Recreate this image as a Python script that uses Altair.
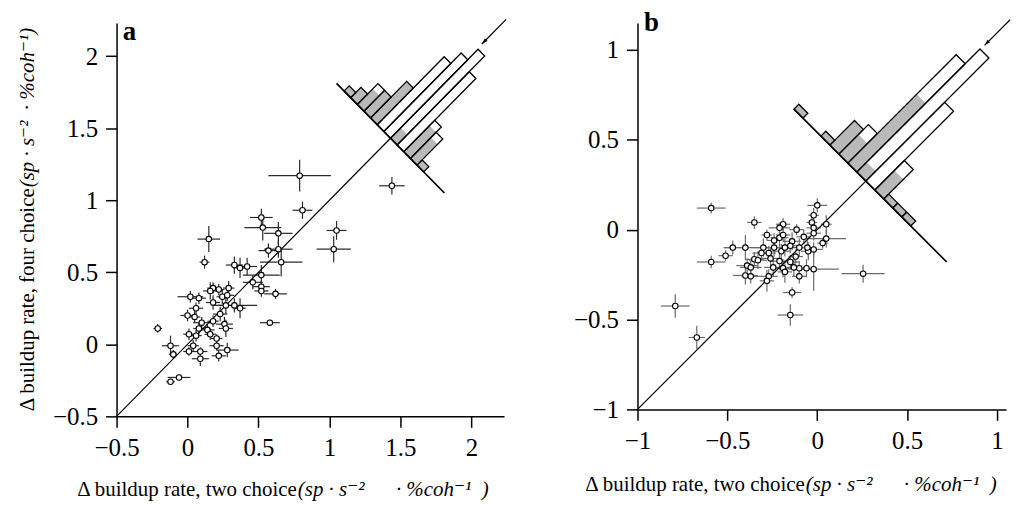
import altair as alt
import pandas as pd

# ---------------------------------------------------------------
# Panel a: two choice (x) vs four choice (y), one point per cell
# ---------------------------------------------------------------
A_X = [0.79, 1.44, 0.81, 0.52, 0.53, 1.05, 0.64, 0.15, 1.03, 0.64, 0.57, 0.12, 0.66, 0.33, 0.37,
       0.42, 0.52, 0.46, 0.52, 0.52, 0.62, 0.18, 0.22, 0.29, 0.02, 0.08, 0.16, 0.245, 0.28, 0.18,
       0.27, 0.33, 0.37, 0.06, 0.05, 0.00, 0.58, 0.23, 0.18, 0.26, 0.27, 0.10, 0.08, 0.14, -0.21,
       0.01, 0.06, 0.16, 0.205, -0.12, 0.04, 0.205, -0.10, 0.01, 0.09, 0.09, 0.22, 0.28, -0.06, -0.12]
A_Y = [1.17, 1.10, 0.93, 0.88, 0.81, 0.79, 0.77, 0.73, 0.66, 0.66, 0.65, 0.57, 0.57, 0.55, 0.53,
       0.54, 0.48, 0.43, 0.40, 0.37, 0.35, 0.39, 0.38, 0.39, 0.33, 0.32, 0.37, 0.33, 0.34, 0.29,
       0.27, 0.27, 0.25, 0.25, 0.19, 0.20, 0.15, 0.21, 0.16, 0.14, 0.11, 0.15, 0.11, 0.10, 0.11,
       0.07, 0.06, 0.07, 0.04, -0.01, -0.01, -0.01, -0.07, -0.05, -0.05, -0.10, -0.08, -0.04, -0.23, -0.26]
A_XERR = [0.22, 0.09, 0.07, 0.08, 0.13, 0.07, 0.10, 0.08, 0.12, 0.10, 0.07, 0.035, 0.15, 0.06, 0.05,
          0.07, 0.13, 0.07, 0.06, 0.05, 0.08, 0.04, 0.04, 0.04, 0.09, 0.05, 0.05, 0.04, 0.05, 0.05,
          0.06, 0.16, 0.04, 0.05, 0.04, 0.05, 0.07, 0.05, 0.04, 0.06, 0.05, 0.06, 0.04, 0.05, 0.03,
          0.04, 0.04, 0.04, 0.04, 0.06, 0.04, 0.05, 0.03, 0.04, 0.05, 0.06, 0.05, 0.08, 0.08, 0.03]
A_YERR = [0.11, 0.06, 0.06, 0.06, 0.09, 0.065, 0.08, 0.09, 0.09, 0.06, 0.05, 0.045, 0.10, 0.06, 0.07,
          0.06, 0.07, 0.05, 0.04, 0.04, 0.035, 0.04, 0.04, 0.05, 0.04, 0.04, 0.06, 0.05, 0.04, 0.05,
          0.06, 0.05, 0.07, 0.04, 0.04, 0.04, 0.02, 0.05, 0.04, 0.05, 0.06, 0.04, 0.04, 0.04, 0.03,
          0.04, 0.04, 0.04, 0.03, 0.07, 0.04, 0.03, 0.03, 0.03, 0.03, 0.05, 0.04, 0.05, 0.02, 0.02]

# histogram of (four - two) along the diagonal
A_BIN = [6, 5, 4, 3, 2, 1, 0, -1, -2, -3, -4, -5]
A_TOTAL = [1, 2, 4, 4, 7, 13, 15, 17, 14, 6, 5, 1]
A_GRAY = [1, 2, 3, 4, 7, 0, 0, 2, 0, 5, 4, 1]
A_BIN_WIDTH = 0.0935
A_MEAN = 0.01

# ---------------------------------------------------------------
# Panel b
# ---------------------------------------------------------------
B_X = [-0.59, -0.35, 0.00, -0.02, -0.03, -0.02, 0.05, -0.28, -0.19, -0.115, -0.21, 0.05, 0.03, -0.47, -0.40,
       -0.51, -0.59, -0.30, -0.24, -0.20, -0.18, -0.14, -0.21, -0.31, -0.35, -0.39, -0.33, -0.37, -0.40, -0.37,
       -0.26, -0.245, -0.21, -0.15, -0.19, -0.18, -0.27, -0.28, -0.13, -0.10, -0.06, -0.02, 0.255, -0.14, -0.15,
       -0.79, -0.67, -0.19, -0.10, -0.05, -0.02, -0.055, -0.02, -0.10, -0.15, -0.075, -0.12, -0.24, -0.27]
B_Y = [0.12, 0.04, 0.135, 0.08, 0.04, 0.01, 0.03, -0.03, 0.03, 0.00, 0.01, -0.05, -0.075, -0.10, -0.10,
       -0.145, -0.18, -0.10, -0.10, -0.12, -0.10, -0.065, -0.045, -0.13, -0.165, -0.20, -0.17, -0.21, -0.255, -0.26,
       -0.16, -0.21, -0.175, -0.18, -0.215, -0.235, -0.26, -0.285, -0.21, -0.26, -0.215, -0.22, -0.245, -0.35, -0.475,
       -0.425, -0.60, -0.03, -0.10, -0.12, -0.11, -0.10, -0.02, -0.215, -0.09, -0.04, -0.15, -0.06, -0.13]
B_XERR = [0.08, 0.04, 0.055, 0.03, 0.03, 0.04, 0.03, 0.03, 0.04, 0.04, 0.06, 0.11, 0.03, 0.05, 0.12,
          0.04, 0.08, 0.06, 0.05, 0.05, 0.05, 0.05, 0.05, 0.05, 0.05, 0.06, 0.05, 0.06, 0.07, 0.05,
          0.06, 0.05, 0.05, 0.05, 0.06, 0.04, 0.05, 0.04, 0.04, 0.04, 0.05, 0.14, 0.12, 0.05, 0.07,
          0.08, 0.045, 0.04, 0.05, 0.04, 0.05, 0.04, 0.04, 0.05, 0.04, 0.04, 0.04, 0.04, 0.04]
B_YERR = [0.03, 0.035, 0.04, 0.04, 0.03, 0.03, 0.05, 0.03, 0.035, 0.03, 0.03, 0.05, 0.03, 0.04, 0.07,
          0.03, 0.035, 0.05, 0.05, 0.04, 0.05, 0.05, 0.05, 0.04, 0.04, 0.04, 0.05, 0.04, 0.05, 0.04,
          0.06, 0.05, 0.05, 0.04, 0.05, 0.06, 0.04, 0.06, 0.05, 0.04, 0.05, 0.12, 0.05, 0.03, 0.06,
          0.065, 0.065, 0.04, 0.05, 0.05, 0.04, 0.04, 0.04, 0.04, 0.04, 0.04, 0.04, 0.04, 0.04]

B_BIN = [7, 4, 3, 2, 1, 0, -1, -2, -3, -4, -5]
B_TOTAL = [1, 1, 5, 6, 22, 25, 16, 6, 1, 1, 1]
B_GRAY = [1, 1, 5, 4, 14, 2, 0, 4, 1, 1, 1]
B_BIN_WIDTH = 0.1
B_MEAN = 0.095

SERIF = "Liberation Serif, DejaVu Serif, serif"
GRAY = "#b9b9b9"


def make_axis(values, pad):
    return alt.Axis(values=values, format="~g", title=None, grid=False,
                    domainColor="black", domainWidth=1.5, tickColor="black", tickWidth=1.5,
                    tickSize=11, labelFont=SERIF, labelFontSize=25, labelColor="black",
                    labelPadding=pad, labelFlush=False, labelOverlap=False)


def hist_polygons(c, bins, counts, bin_width, unit):
    """Corners of the rotated bars: base on the anti-diagonal through (c, c), length along y = x."""
    rows = []
    for b, n in zip(bins, counts):
        if n == 0:
            continue
        lo, hi = b * bin_width, (b + 1) * bin_width
        L = n * unit
        corners = [(c - lo / 2, c + lo / 2), (c - hi / 2, c + hi / 2),
                   (c - hi / 2 + L, c + hi / 2 + L), (c - lo / 2 + L, c + lo / 2 + L),
                   (c - lo / 2, c + lo / 2)]
        for k, (px, py) in enumerate(corners):
            rows.append({"bar": b, "k": k, "x": px, "y": py})
    return pd.DataFrame(rows)


def panel(xs, ys, xerr, yerr, dom_x, dom_y, ticks, w, h, err_color,
          c, bins, total, gray, bin_width, unit, hist_span, mean, tip, tail):
    X = lambda f: alt.X(f, scale=alt.Scale(domain=dom_x, nice=False, zero=False), axis=make_axis(ticks, 8))
    Y = lambda f: alt.Y(f, scale=alt.Scale(domain=dom_y, nice=False, zero=False), axis=make_axis(ticks, 8))

    df = pd.DataFrame({"x": xs, "y": ys, "xe": xerr, "ye": yerr})
    df["x_lo"], df["x_hi"] = df.x - df.xe, df.x + df.xe
    df["y_lo"], df["y_hi"] = df.y - df.ye, df.y + df.ye
    base = alt.Chart(df)
    herr = base.mark_rule(color=err_color, strokeWidth=1.2).encode(x=X("x_lo:Q"), x2="x_hi:Q", y=Y("y:Q"))
    verr = base.mark_rule(color=err_color, strokeWidth=1.2).encode(x=X("x:Q"), y=Y("y_lo:Q"), y2="y_hi:Q")
    pts = base.mark_point(shape="circle", filled=True, fill="white", stroke="black",
                          strokeWidth=1.1, size=30, opacity=1).encode(x=X("x:Q"), y=Y("y:Q"))

    lo = dom_x[0]
    diag = alt.Chart(pd.DataFrame({"x": [lo, c], "y": [lo, c]})).mark_line(
        color="black", strokeWidth=1.2).encode(x=X("x:Q"), y=Y("y:Q"))

    poly_total = hist_polygons(c, bins, total, bin_width, unit)
    poly_gray = hist_polygons(c, bins, gray, bin_width, unit)
    enc = dict(x=X("x:Q"), y=Y("y:Q"), detail="bar:N", order="k:Q")
    white_fill = alt.Chart(poly_total).mark_line(fill="white", strokeOpacity=0).encode(**enc)
    gray_fill = alt.Chart(poly_gray).mark_line(fill=GRAY, strokeOpacity=0).encode(**enc)
    outline = alt.Chart(poly_total).mark_line(color="black", strokeWidth=1.3,
                                              strokeJoin="miter").encode(**enc)

    e_hi, e_lo = hist_span
    hax = alt.Chart(pd.DataFrame({"x": [c - e_hi / 2, c - e_lo / 2],
                                  "y": [c + e_hi / 2, c + e_lo / 2]})).mark_line(
        color="black", strokeWidth=1.7).encode(x=X("x:Q"), y=Y("y:Q"))

    ax0, ay0 = c - mean / 2 + tip, c + mean / 2 + tip
    ax1, ay1 = c - mean / 2 + tail, c + mean / 2 + tail
    shaft = alt.Chart(pd.DataFrame({"x": [ax0, ax1], "y": [ay0, ay1]})).mark_line(
        color="black", strokeWidth=1.2).encode(x=X("x:Q"), y=Y("y:Q"))
    head = alt.Chart(pd.DataFrame({"x": [ax0], "y": [ay0]})).mark_point(
        shape="M0,0L-0.38,-1.3L0.38,-1.3Z", angle=45, size=90, filled=True,
        color="black", opacity=1).encode(x=X("x:Q"), y=Y("y:Q"))

    return alt.layer(herr, verr, diag, pts, white_fill, gray_fill, outline, hax, shaft, head).properties(
        width=w, height=h)


def label(text, x, y, size=21, style="normal", weight="normal", align="center", angle=0):
    return alt.Chart(pd.DataFrame({"t": [text]})).mark_text(
        font=SERIF, fontSize=size, fontStyle=style, fontWeight=weight, align=align,
        baseline="middle", angle=angle, color="black").encode(
        text="t:N", x=alt.value(x), y=alt.value(y))


UNITS_WIDE = "(sp · s⁻²\u2003\u2002· %coh⁻¹\u2002)"
UNITS = "(sp · s⁻²\u2002· %coh⁻¹)"

chart_a = panel(A_X, A_Y, A_XERR, A_YERR, [-0.5, 2.23], [-0.5, 2.23],
                [-0.5, 0, 0.5, 1, 1.5, 2], 389, 395, "#2a2a2a",
                1.43, A_BIN, A_TOTAL, A_GRAY, A_BIN_WIDTH, 0.0363, (0.76, -0.76),
                A_MEAN, 0.649, 0.82)
chart_a = alt.layer(
    chart_a,
    label("a", 13, 9, size=27, weight="bold"),
    label("Δ buildup rate, two choice", 181, 469, align="right"),
    label(UNITS_WIDE, 182, 469, style="italic", align="left"),
    label("Δ buildup rate, four choice", -89, 166, align="right", angle=270),
    label(UNITS, -89, 165, style="italic", align="left", angle=270),
)

chart_b = panel(B_X, B_Y, B_XERR, B_YERR, [-1, 1.05], [-1, 1.15],
                [-1, -0.5, 0, 0.5, 1], 370, 388, "#6a6a6a",
                0.27, B_BIN, B_TOTAL, B_GRAY, B_BIN_WIDTH, 0.0274, (0.8, -0.9),
                B_MEAN, 0.708, 0.85)
chart_b = alt.layer(
    chart_b,
    label("b", 14, 0, size=27, weight="bold"),
    label("Δ buildup rate, two choice", 168, 464, align="right"),
    label(UNITS_WIDE, 169, 464, style="italic", align="left"),
)

chart = alt.hconcat(chart_a, chart_b, spacing=134, bounds="flush").properties(
    padding={"left": 9, "top": 0, "right": 0, "bottom": 0}
).configure_view(stroke=None)

chart.save("out.html", embed_options={"renderer": "svg", "actions": False})
